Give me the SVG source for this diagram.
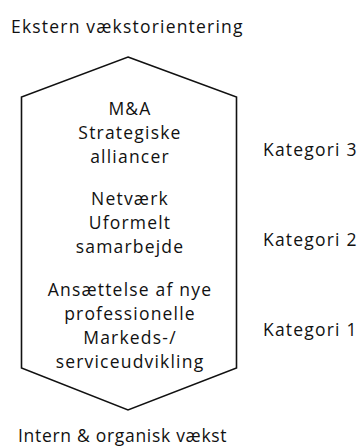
<svg xmlns="http://www.w3.org/2000/svg" width="361" height="448" viewBox="0 0 361 448">
<style>
text{font-family:"Open Sans","Noto Sans",sans-serif;font-size:17.5px;letter-spacing:1.2px;fill:#111}
.c{text-anchor:middle}
.b{letter-spacing:0.7px}
.shape{fill:none;stroke:#111;stroke-width:1.6;stroke-linejoin:miter}
</style>
<rect width="361" height="448" fill="#fff"/>
<g id="title-top"><text x="11" y="33">Ekstern vækstorientering</text></g>
<g id="hexagon">
<polygon class="shape" points="128,57 236.5,97 236.5,368 128,410 21.5,368 21.5,97"/>
</g>
<g id="group3">
<text class="c" x="130" y="115">M&amp;A</text>
<text class="c" x="130" y="139">Strategiske</text>
<text class="c" x="130" y="163">alliancer</text>
</g>
<g id="group2">
<text class="c" x="130" y="205">Netværk</text>
<text class="c" x="130" y="229">Uformelt</text>
<text class="c" x="130" y="253">samarbejde</text>
</g>
<g id="group1">
<text class="c" x="130" y="296">Ansættelse af nye</text>
<text class="c" x="130" y="320">professionelle</text>
<text class="c" x="130" y="344">Markeds-/</text>
<text class="c" x="130" y="368">serviceudvikling</text>
</g>
<g id="kategori3"><text x="263" y="156">Kategori 3</text></g>
<g id="kategori2"><text x="263" y="246">Kategori 2</text></g>
<g id="kategori1"><text x="263" y="336">Kategori 1</text></g>
<g id="title-bottom"><text class="b" x="18" y="442">Intern &amp; organisk vækst</text></g>
<g id="connectors"></g>
</svg>
